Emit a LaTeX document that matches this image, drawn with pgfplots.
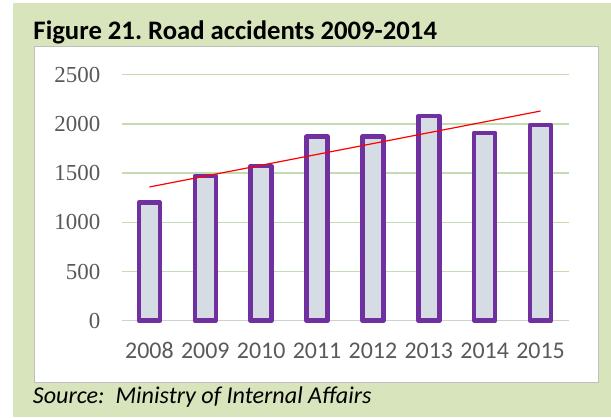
\documentclass[border=0pt]{standalone}
\usepackage{pgfplots}
\pgfplotsset{compat=1.18}
\usepackage{fontspec}
\setmainfont{Carlito}
\newfontfamily\serifnum{Liberation Serif}
\definecolor{bggreen}{HTML}{D8E4BC}
\definecolor{gridgreen}{HTML}{C4DDB0}
\definecolor{barfill}{HTML}{D6DCE4}
\definecolor{barpurple}{HTML}{7030A0}
\definecolor{ticktext}{HTML}{595959}
\definecolor{panelborder}{HTML}{BFBFBF}
\definecolor{baseline}{HTML}{D0D0D0}
\frenchspacing
\begin{document}
\begin{tikzpicture}[x=1bp,y=1bp]
\path[use as bounding box] (0,0) rectangle (611,417);
\fill[bggreen] (13,0) rectangle (611,414);
\filldraw[fill=white, draw=panelborder, line width=1bp] (34,35) rectangle (598,371);
\node[anchor=base west, inner sep=0pt, font=\fontsize{26.8}{30}\selectfont\bfseries] at (33.3,377.7) {Figure 21. Road accidents 2009-2014};
\node[anchor=base west, inner sep=0pt, font=\fontsize{24.2}{28}\selectfont\itshape] at (32.7,13.7) {Source:\ \ Ministry of Internal Affairs};
\begin{axis}[
  at={(121.5bp,96.3bp)}, anchor=south west,
  scale only axis, width=447bp, height=246bp,
  xmin=-0.5, xmax=7.5, ymin=0, ymax=2500,
  clip=false,
  axis line style={draw=none},
  major tick length=0pt,
  ytick={0,500,1000,1500,2000,2500},
  yticklabels={0,500,1000,1500,2000,2500},
  xtick={0,1,2,3,4,5,6,7},
  xticklabels={2008,2009,2010,2011,2012,2013,2014,2015},
  ymajorgrids,
  grid style={gridgreen, line width=1.5bp},
  yticklabel style={font=\serifnum\fontsize{23}{26}\selectfont, text=ticktext, anchor=east, inner sep=0pt, xshift=-21bp},
  xticklabel style={font=\fontsize{24}{28}\selectfont, text=ticktext, anchor=center, inner sep=0pt, yshift=-30bp},
]
\addplot[draw=baseline, line width=1.5bp] coordinates {(-0.5,0) (7.5,0)};
\addplot[ybar, bar width=21bp, fill=barfill, draw=barpurple, line width=4.5bp, line join=round] coordinates {
(0,1200) (1,1470) (2,1570) (3,1870) (4,1870) (5,2080) (6,1910) (7,1990)
};
\addplot[red, line width=1.2bp] coordinates {(0,1359) (7,2131)};
\end{axis}
\end{tikzpicture}
\end{document}
